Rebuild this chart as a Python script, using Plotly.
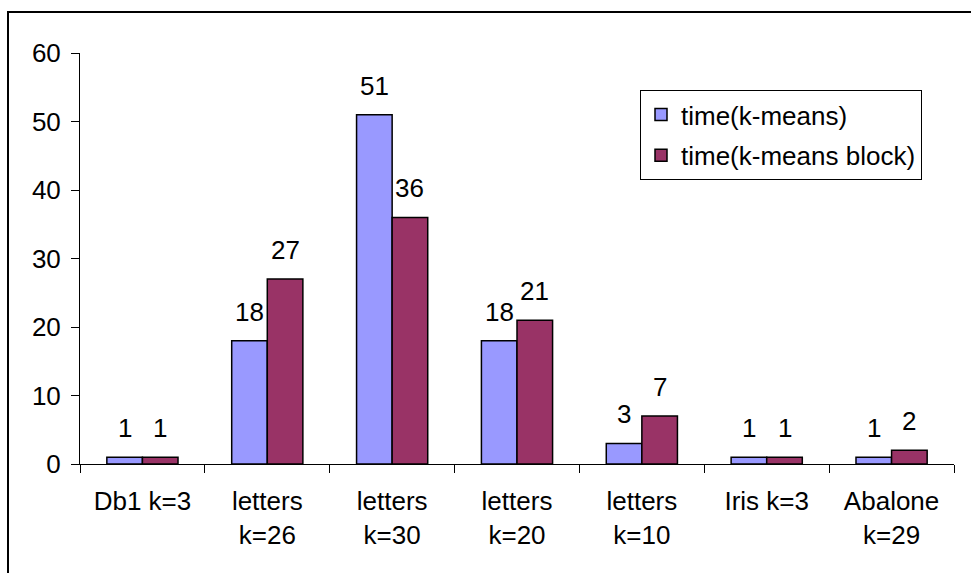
import plotly.graph_objects as go

# Data
categories = ["Db1 k=3", "letters<br>k=26", "letters<br>k=30", "letters<br>k=20",
              "letters<br>k=10", "Iris k=3", "Abalone<br>k=29"]
kmeans = [1, 18, 51, 18, 3, 1, 1]
kmeans_block = [1, 27, 36, 21, 7, 1, 2]
series_names = ["time(k-means)", "time(k-means block)"]
y_ticks = [0, 10, 20, 30, 40, 50, 60]

FONT = "Liberation Sans, Arial, sans-serif"
FS = 26
colors = ["#9999FF", "#993366"]

fig = go.Figure()
for k, (name, vals, col) in enumerate(zip(series_names, [kmeans, kmeans_block], colors)):
    fig.add_trace(go.Bar(
        x=categories, y=vals, name=name, legendgroup=f"g{k}",
        marker=dict(color=col, line=dict(color="black", width=1.5)),
    ))

# Value labels above each bar
W, H = 971, 573
ml, mr, mt, mb = 80, 17, 53, 109
plot_w = W - ml - mr
cat_w = plot_w / len(categories)
bargap = 0.43
bar_w = cat_w * (1 - bargap) / 2
for i, vals in enumerate([kmeans, kmeans_block]):
    shift = (-0.5 + i) * bar_w
    for c, v in zip(categories, vals):
        fig.add_annotation(
            x=c, y=v, xref="x", yref="y", text=str(v), showarrow=False,
            xshift=shift, yshift=29, yanchor="middle",
            font=dict(family=FONT, size=FS, color="black"),
        )

# Outer chart border (top/left edges visible)
plot_h = H - mt - mb
fig.add_shape(
    type="rect", xref="paper", yref="paper",
    x0=(8 - ml) / plot_w, x1=1.2,
    y0=-0.6, y1=(H - mb - 12) / plot_h,
    line=dict(color="black", width=2), fillcolor="rgba(0,0,0,0)",
    layer="below",
)

fig.update_layout(
    width=W, height=H,
    margin=dict(l=ml, r=mr, t=mt, b=mb),
    paper_bgcolor="white", plot_bgcolor="white",
    barmode="group", bargap=bargap, bargroupgap=0,
    font=dict(family=FONT, size=FS, color="black"),
    showlegend=True,
    legend=dict(
        x=(640 - ml) / plot_w, y=(H - mb - 90) / plot_h,
        xanchor="left", yanchor="top",
        bordercolor="black", borderwidth=1, bgcolor="white",
        font=dict(family=FONT, size=FS, color="black"),
        traceorder="grouped", tracegroupgap=4,
    ),
    xaxis=dict(
        showline=True, linecolor="black", linewidth=1,
        ticks="outside", tickson="boundaries", ticklen=8, tickcolor="black",
        showgrid=False, tickfont=dict(family=FONT, size=FS),
        ticklabelstandoff=14,
    ),
    yaxis=dict(
        range=[0, 60], tickvals=y_ticks,
        showline=True, linecolor="black", linewidth=1,
        ticks="outside", ticklen=8, tickcolor="black",
        showgrid=False, zeroline=False,
        tickfont=dict(family=FONT, size=FS),
        ticklabelstandoff=5,
    ),
)

fig.write_html("out.html")
